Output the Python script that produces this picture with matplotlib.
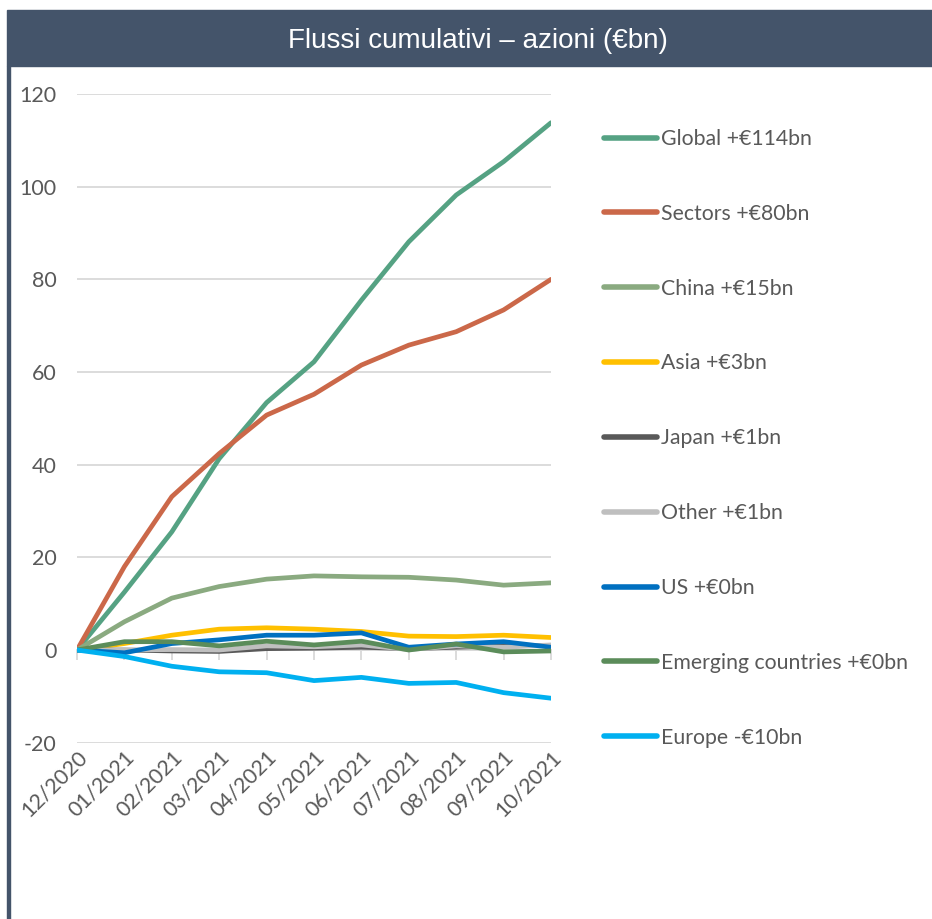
import matplotlib
matplotlib.use("Agg")
import matplotlib.pyplot as plt
from matplotlib.patches import Rectangle
from matplotlib.lines import Line2D

months = ["12/2020", "01/2021", "02/2021", "03/2021", "04/2021", "05/2021",
          "06/2021", "07/2021", "08/2021", "09/2021", "10/2021"]

global_eq = [0, 12.5, 25.5, 41.3, 53.4, 62.2, 75.5, 88.1, 98.2, 105.4, 113.8]
sectors = [0, 18.0, 33.1, 42.4, 50.7, 55.2, 61.5, 65.8, 68.7, 73.4, 80.0]
china = [0, 6.1, 11.2, 13.7, 15.3, 16.0, 15.8, 15.7, 15.1, 14.0, 14.5]
asia = [0, 1.4, 3.2, 4.5, 4.8, 4.5, 4.0, 3.0, 2.9, 3.2, 2.7]
japan = [0, 0.0, -0.2, -0.3, 0.3, 0.4, 0.6, 0.3, 0.6, 0.9, 1.0]
other = [0, 0.0, 0.1, 0.0, 0.9, 0.7, 1.1, 0.1, 0.9, 0.6, 1.1]
us = [0, -0.6, 1.4, 2.2, 3.2, 3.2, 3.7, 0.6, 1.3, 1.8, 0.6]
emerging = [0, 1.8, 1.8, 0.9, 1.9, 1.1, 1.9, 0.0, 1.3, -0.4, -0.2]
europe = [0, -1.4, -3.5, -4.7, -4.9, -6.6, -5.9, -7.2, -7.0, -9.2, -10.4]

series = [
    ("Global +€114bn", global_eq, "#55A283"),
    ("Sectors +€80bn", sectors, "#CB6849"),
    ("China +€15bn", china, "#8AAA80"),
    ("Asia +€3bn", asia, "#FFC000"),
    ("Japan +€1bn", japan, "#595959"),
    ("Other +€1bn", other, "#BFBFBF"),
    ("US +€0bn", us, "#0070C0"),
    ("Emerging countries +€0bn", emerging, "#5B8C5A"),
    ("Europe -€10bn", europe, "#00B0F0"),
]

header = "#44546A"
text_col = "#595959"
grid_col = "#D9D9D9"

plt.rcParams["font.family"] = ["Lato", "DejaVu Sans"]
plt.rcParams["axes.unicode_minus"] = False

W, H = 932, 919
fig = plt.figure(figsize=(W / 100, H / 100), dpi=100)

# header band and left rule
fig.patches.append(Rectangle((7 / W, 1 - 66 / H), 1 - 7 / W, 56 / H,
                             transform=fig.transFigure, color=header, zorder=0))
fig.patches.append(Rectangle((7 / W, 0), 2.5 / W, 1 - 66 / H,
                             transform=fig.transFigure, color=header, zorder=0))
fig.text(478 / W, 1 - 41 / H, "Flussi cumulativi – azioni (€bn)",
         color="white", fontsize=20,
         family=["Liberation Sans", "DejaVu Sans"],
         ha="center", va="center")

left, right = 77 / W, 551 / W
top, bottom = 1 - 94 / H, 1 - 742.7 / H
ax = fig.add_axes([left, bottom, right - left, top - bottom])

x = list(range(len(months)))
for label, vals, col in series:
    ax.plot(x, vals, color=col, lw=3.4, label=label, solid_capstyle="round",
            solid_joinstyle="round", zorder=3)

ax.set_xlim(0, len(months) - 1)
ax.set_ylim(-20, 120)
ax.set_yticks(range(-20, 121, 20))
ax.grid(axis="y", color=grid_col, lw=1.3, zorder=0)
ax.set_xticks(x)
ax.set_xticklabels(months, rotation=45, ha="right", va="top",
                   rotation_mode="anchor")
ax.tick_params(axis="x", length=0, pad=3, labelsize=15.5, labelcolor=text_col)
ax.tick_params(axis="y", length=0, pad=14.5, labelsize=15.5, labelcolor=text_col)
for s in ax.spines.values():
    s.set_visible(False)

# category axis at zero with small tick marks
sec = ax.secondary_xaxis(20 / 140)
sec.set_xticks(x)
sec.set_xticklabels([])
sec.tick_params(axis="x", length=7, width=1.3, color=grid_col, direction="out")
sec.spines["bottom"].set_color(grid_col)
sec.spines["bottom"].set_linewidth(1.3)

handles = [Line2D([0], [0], color=c, lw=4, solid_capstyle="round") for _, _, c in series]
labels = [s[0] for s in series]
leg = fig.legend(handles, labels, loc="upper left",
                 bbox_to_anchor=(604 / W, 1 - 129 / H), frameon=False,
                 fontsize=15.3, labelspacing=2.58, handlelength=2.5,
                 handletextpad=0.2, borderaxespad=0, borderpad=0)
for t in leg.get_texts():
    t.set_color(text_col)

fig.savefig("out.png", dpi=100)
